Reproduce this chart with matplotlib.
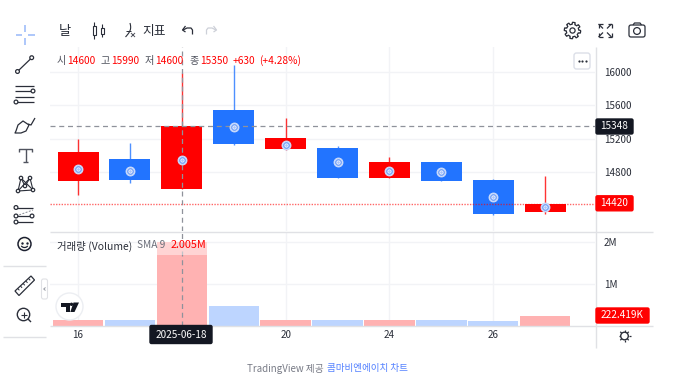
import numpy as np
import matplotlib
matplotlib.use("Agg")
import matplotlib.pyplot as plt
from matplotlib.patches import Circle, FancyBboxPatch, Rectangle, Polygon

plt.rcParams['font.family'] = ['Noto Sans CJK KR', 'DejaVu Sans']

# candles
opens = [14692, 14962, 14600, 15544, 15072, 15092, 14732, 14920, 14704, 14320]
highs = [15196, 15148, 15990, 16084, 15448, 15110, 14980, 14925, 14720, 14752]
lows = [14524, 14668, 14600, 15124, 15060, 14725, 14728, 14688, 14288, 14296]
closes = [15040, 14710, 15350, 15140, 15204, 14732, 14920, 14692, 14292, 14420]
volumes = [0.12, 0.12, 2.005, 0.46, 0.14, 0.14, 0.12, 0.14, 0.10, 0.222]
marks = [14840, 14810, 14950, 15345, 15130, 14915, 14815, 14800, 14495, 14385]

price_ticks = [14800, 15200, 15600, 16000]
vol_ticks = [1, 2]
vol_tick_labels = ['1M', '2M']
day_ticks = [0, 4, 6, 8]
day_labels = ['16', '20', '24', '26']
last_close = 14420
cross_price = 15348
cross_idx = 2

RED = '#ff0000'
BLUE = '#2274ff'
GRID = '#f2f3f6'
DARK = '#131722'
INK = '#2a2e39'
FRAME = '#e0e1e5'
W, H = 674, 377

fig = plt.figure(figsize=(W / 100, H / 100), dpi=100, facecolor='white')


def add_ax(x0, y0, x1, y1, **kw):
    return fig.add_axes([x0 / W, 1 - y1 / H, (x1 - x0) / W, (y1 - y0) / H], **kw)


xlim = (-0.54, 9.96)
ax = add_ax(50, 47, 595, 231.5)
ax.set_xlim(xlim)
ax.set_ylim(14086, 16300)
vol = add_ax(50, 231.5, 595, 325.5)
vol.set_xlim(xlim)
vol.set_ylim(0, 2.25)

x = np.arange(len(opens))
colors = [RED if c >= o else BLUE for o, c in zip(opens, closes)]

for a in (ax, vol):
    for s in a.spines.values():
        s.set_visible(False)
    a.set_axisbelow(True)
    a.grid(True, color=GRID, lw=1)
    a.yaxis.tick_right()
    a.tick_params(length=0, labelsize=7.1, labelcolor=INK, pad=6.5)

ax.set_xticks(day_ticks)
ax.set_xticklabels([])
ax.set_yticks(price_ticks)
vol.set_xticks(day_ticks)
vol.set_xticklabels(day_labels)
vol.tick_params(axis='x', pad=3.5)
vol.set_yticks(vol_ticks)
vol.set_yticklabels(vol_tick_labels)

ax.vlines(x, lows, highs, color=colors, lw=1, alpha=0.8, zorder=3)
ax.bar(x, np.abs(np.array(closes) - np.array(opens)), bottom=np.minimum(opens, closes),
       width=0.79, color=colors, zorder=4)
ax.axhline(last_close, color=RED, lw=1, ls=(0, (1, 1)), alpha=0.6, zorder=5)
ax.axhline(cross_price, color='#8f929b', lw=0.9, ls=(0, (4, 3)), zorder=6)
ax.axvline(cross_idx, color='#8f929b', lw=0.9, ls=(0, (4, 3)), zorder=6)
ax.scatter(x, marks, s=40, color='white', edgecolor='#c6d8fb', lw=0.8, zorder=7)
ax.scatter(x, marks, s=16, color='white', edgecolor='#7ba6f8', lw=1.1, zorder=8)
ax.scatter(x, marks, s=4, color='#a9c4fb', lw=0, zorder=9)

vol_colors = ['#ffb2b2' if c == RED else '#bdd5ff' for c in colors]
vol.bar(x, volumes, width=0.97, color=vol_colors, zorder=3)
vol.axvline(cross_idx, color='#8f929b', lw=0.9, ls=(0, (4, 3)), zorder=6)

# overlay in pixel coordinates: toolbars, labels, icons
ov = fig.add_axes([0, 0, 1, 1], zorder=20)
ov.set_xlim(0, W)
ov.set_ylim(H, 0)
ov.axis('off')
ov.patch.set_alpha(0)


def line(xs, ys, c=INK, lw=1, **kw):
    ov.plot(xs, ys, color=c, lw=lw, solid_capstyle='butt', **kw)


def ring(cx, cy, r=1.9, c=INK, lw=0.9, fc='white'):
    ov.add_patch(Circle((cx, cy), r, fc=fc, ec=c, lw=lw, zorder=5))


def label(x0, x1, yc, text, fc, fs=7.2):
    ov.add_patch(FancyBboxPatch((x0 + 1, yc - 7.5), x1 - x0 - 2, 15, boxstyle='round,pad=0,rounding_size=1.5',
                                mutation_aspect=1, fc=fc, ec=fc, lw=1, zorder=6))
    ov.text((x0 + x1) / 2, yc - 0.3, text, color='white', fontsize=fs, ha='center', va='center', zorder=7)


# frame lines
line([595.5, 595.5], [47, 348], FRAME)
line([50, 653], [231.5, 231.5], FRAME)
line([50, 653], [325.5, 325.5], FRAME)
line([3, 46], [265.5, 265.5], FRAME)
line([3, 46], [336.5, 336.5], FRAME)

# price pane legend
segs = [(57, '시', '#50535e'), (67.5, '14600', RED), (100.5, '고', '#50535e'), (111, '15990', RED),
        (144.5, '저', '#50535e'), (155.5, '14600', RED), (189, '종', '#50535e'), (200, '15350', RED),
        (233, '+630', RED), (259.5, '(+4.28%)', RED)]
for px, txt, c in segs:
    ov.text(px, 61, txt, color=c, fontsize=7.3, va='center')

# volume legend, the pale band is the legend background over the bar
ov.add_patch(Rectangle((156, 241), 51, 14, fc='white', ec='none', alpha=0.45))
ov.text(57, 246, '거래량 (Volume)', color=INK, fontsize=7.5, va='center')
ov.text(137, 245.5, 'SMA 9', color='#6a6d78', fontsize=7.3, va='center')
ov.text(171, 245.5, '2.005M', color=RED, fontsize=7.8, va='center')

# axis labels
label(595, 634, 126.5, '15348', DARK)
label(595, 634, 203.3, '14420', RED)
label(595, 650, 315.5, '222.419K', RED)
ov.add_patch(FancyBboxPatch((150, 325.5), 62, 18, boxstyle='round,pad=0,rounding_size=1.5',
                            fc=DARK, ec=DARK, lw=1, zorder=6))
ov.text(181, 335, '2025-06-18', color='white', fontsize=7.2, ha='center', va='center', zorder=7)

# top toolbar
ov.text(65, 31, '날', color=INK, fontsize=9.5, ha='center', va='center')
line([94, 94], [22, 39], lw=0.8)
ov.add_patch(Rectangle((92.5, 26), 3.2, 9, fc='white', ec=INK, lw=0.8, zorder=3))
line([102, 102], [24, 37], lw=0.8)
ov.add_patch(Rectangle((100.5, 28), 3, 6, fc='white', ec=INK, lw=0.8, zorder=3))
t = np.linspace(0, 1, 12)
line(125.5 + 4.5 * t + 2.5 * np.sin(3.14 * t), 37 - 14 * t, lw=0.8)
line([125.5, 130.5], [30.5, 30.5], lw=0.7)
line([131, 135, np.nan, 135, 131], [33, 37, np.nan, 33, 37], '#50535e', lw=0.7)
ov.text(154, 31, '지표', color=INK, fontsize=9.2, ha='center', va='center')
line([183, 187, 191, 192.5, 192.5], [30, 28, 28, 30, 34.5], lw=0.9)
line([185.5, 182.5, 185.5], [26, 30, 32], lw=0.9)
line([216, 212, 208, 206.5, 206.5], [30, 28, 28, 30, 34.5], '#cdd0d8', lw=0.9)
line([213.5, 216.5, 213.5], [26, 30, 32], '#cdd0d8', lw=0.9)

# gear, fullscreen, camera
a = np.linspace(0, 2 * np.pi, 97)
r = 7.2 + 1.0 * np.sign(np.sin(8 * a + 0.4))
line(572.5 + r * np.cos(a), 30.5 + r * np.sin(a), lw=0.9)
ring(572.5, 30.5, 2.6)
for sx in (-1, 1):
    for sy in (-1, 1):
        line([605 + sx * 2, 605 + sx * 6.5], [30.5 + sy * 2, 30.5 + sy * 6.5], lw=0.9)
        line([605 + sx * 6.5, 605 + sx * 6.5], [30.5 + sy * 2.5, 30.5 + sy * 6.5], lw=0.9)
        line([605 + sx * 2.5, 605 + sx * 6.5], [30.5 + sy * 6.5, 30.5 + sy * 6.5], lw=0.9)
ov.add_patch(FancyBboxPatch((629, 25), 16, 12, boxstyle='round,pad=0,rounding_size=2', fc='white', ec=INK, lw=0.9))
line([633, 634.5, 640, 641.5], [25, 23, 23, 25], lw=0.9)
ring(637, 31, 3.4)

# "..." button
ov.add_patch(FancyBboxPatch((574, 53), 16, 16, boxstyle='round,pad=0,rounding_size=2.5', fc='white', ec='#dcdfe8', lw=1))
ov.scatter([578.5, 582, 585.5], [61, 61, 61], s=2.5, color=INK, lw=0, zorder=5)

# left toolbar
c_blue = '#a7c3fa'
line([25, 25], [25, 31.5], c_blue, lw=1.3)
line([25, 25], [38, 44.5], c_blue, lw=1.3)
line([15.5, 22], [34.7, 34.7], c_blue, lw=1.3)
line([28, 34.5], [34.7, 34.7], c_blue, lw=1.3)

line([18, 31.5], [71, 58], lw=0.9)
ring(17.5, 71.5)
ring(31.7, 57.7)

line([15, 34], [85.5, 85.5], lw=0.9)
line([15, 34], [91, 91], lw=0.9)
line([15, 34], [96.5, 96.5], lw=0.9)
line([15, 34], [102, 102], lw=0.9)
ring(33, 91)
ring(16, 102)

line([16, 18, 23, 29, 26, 21, 15, 16], [131, 125, 121, 125, 131, 133, 133, 131], lw=0.9)
line([28, 31, 35], [124, 125, 118], lw=0.9)

line([25.5, 25.5], [149, 162], '#50535e', lw=1)
line([19, 19, 32, 32], [152, 149, 149, 152], '#50535e', lw=1)
line([23, 28], [162, 162], '#50535e', lw=1)

pts = [(18, 191), (21, 178), (25, 186), (30, 178), (33, 190)]
line([p[0] for p in pts] + [18], [p[1] for p in pts] + [191], lw=0.8)
line([21, 33], [178, 190], lw=0.8)
line([18, 30], [191, 178], lw=0.8)
for p in pts:
    ring(p[0], p[1], 1.7)

line([16, 33], [207.5, 207.5], lw=0.9)
line([16, 33], [222, 222], lw=0.9)
line([16, 33], [216, 210], '#888b94', lw=0.7, ls=(0, (2, 1.5)))
line([16, 33], [216, 216], lw=0.9)
ring(16, 207.5)
ring(16, 216)
ring(32, 216)
ring(16, 222)

ov.add_patch(Circle((24.5, 244), 6.5, fc='#fffdf5', ec='#1c2030', lw=1.1, zorder=1))
ov.scatter([22, 27], [242.5, 242.5], s=3, color='#1c2030', lw=0, zorder=3)
t = np.linspace(0.15 * np.pi, 0.85 * np.pi, 12)
line(24.5 + 3.6 * np.cos(t), 244.5 + 3 * np.sin(t), '#1c2030', lw=0.9)

ov.add_patch(Polygon([(15, 291), (31, 276), (34.5, 280), (19, 295.5)], closed=True, fc='white', ec=INK, lw=0.9, zorder=1))
for k in range(1, 6):
    px, py = 15 + k * 2.7, 291 - k * 2.5
    line([px, px + 1.7], [py, py + 1.8], lw=0.7)

ring(23.5, 314.5, 6.2, lw=1, fc='none')
line([20.5, 26.5], [314.5, 314.5], lw=0.8)
line([23.5, 23.5], [311.5, 317.5], lw=0.8)
line([28, 31], [319, 322], lw=1)

# collapse handle
ov.add_patch(FancyBboxPatch((41.5, 279), 6, 20, boxstyle='round,pad=0,rounding_size=2', fc='white', ec=FRAME, lw=0.8, zorder=1))
line([45.5, 43.7, 45.5], [287.5, 289, 290.5], '#9598a1', lw=0.7)

# TradingView logo
ov.add_patch(Circle((69.5, 306.5), 13.5, fc='white', ec='#eceef2', lw=1))
ov.add_patch(Polygon([(61, 302.5), (70, 302.5), (70, 312), (66, 312), (66, 306.5), (61, 306.5)], fc=DARK, ec='none', zorder=2))
ov.add_patch(Polygon([(73.5, 302.5), (79, 302.5), (74.5, 312), (70.3, 312)], fc=DARK, ec='none', zorder=2))
ov.add_patch(Circle((71.5, 304.3), 1.7, fc=DARK, ec='none', zorder=2))

# settings sun
ring(624.5, 336, 3.8, lw=1)
for ang in np.arange(0, 2 * np.pi, np.pi / 4):
    line([624.5 + 4 * np.cos(ang), 624.5 + 6 * np.cos(ang)], [336 + 4 * np.sin(ang), 336 + 6 * np.sin(ang)], lw=0.9)

# footer
ov.text(247, 369, 'TradingView 제공', color='#787b86', fontsize=7.0, va='center')
ov.text(327, 369, '콤마비엔에이치 차트', color='#2962ff', alpha=0.8, fontsize=6.9, va='center')

fig.savefig('out.png', dpi=100, facecolor='white')
